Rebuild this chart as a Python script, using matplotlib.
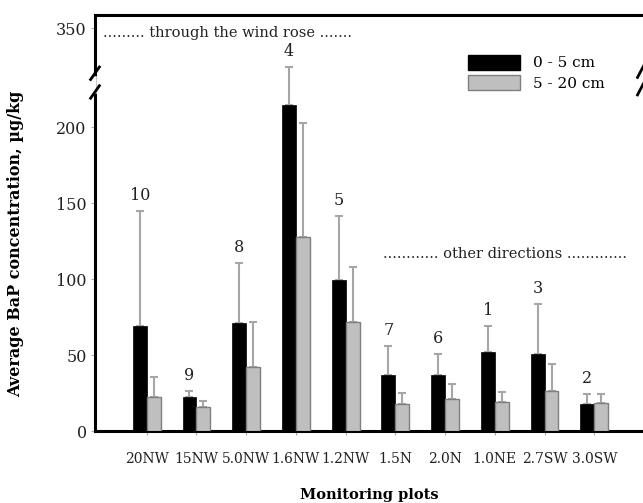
import numpy as np
import matplotlib
matplotlib.use('Agg')
import matplotlib.pyplot as plt
from matplotlib.patches import Patch

# data
plots = ['20NW', '15NW', '5.0NW', '1.6NW', '1.2NW', '1.5N', '2.0N', '1.0NE', '2.7SW', '3.0SW']
plot_ids = ['10', '9', '8', '4', '5', '7', '6', '1', '3', '2']
top_mean = [69.3, 22.2, 70.8, 214.7, 99.3, 36.8, 36.8, 52.2, 50.7, 17.8]
top_upper = [144.7, 26.5, 110.3, 239.5, 141.6, 55.9, 50.4, 69.1, 83.6, 24.3]
sub_mean = [22.6, 15.8, 41.9, 127.8, 71.9, 17.8, 21.1, 19.3, 26.3, 18.2]
sub_upper = [35.3, 19.5, 71.9, 202.5, 108.1, 24.8, 30.9, 25.4, 44.1, 24.3]
y_ticks = [0, 50, 100, 150, 200, 350]

plt.rcParams['font.family'] = 'DejaVu Serif'

# broken y axis: linear to 250, compressed above
B, K = 250.0, 0.15
def fwd(y):
    y = np.asarray(y, dtype=float)
    return np.where(y <= B, y, B + (y - B) * K)
def inv(y):
    y = np.asarray(y, dtype=float)
    return np.where(y <= B, y, B + (y - B) / K)

fig = plt.figure(figsize=(6.43, 5.03), dpi=100)
ax = fig.add_axes([95/643, 72/503, 548/643, 416/503])
ax.set_yscale('function', functions=(fwd, inv))

x = np.arange(len(plots))
w = 0.28
top_mean = np.array(top_mean)
sub_mean = np.array(sub_mean)
top_err = np.array(top_upper) - top_mean
sub_err = np.array(sub_upper) - sub_mean

ax.bar(x - w/2, top_mean, w, color='black', edgecolor='black', linewidth=0.5, zorder=3)
ax.bar(x + w/2, sub_mean, w, color='#bfbfbf', edgecolor='#7f7f7f', linewidth=1.0, zorder=3)
ax.errorbar(x - w/2, top_mean, yerr=[np.zeros_like(top_err), top_err], fmt='none',
            ecolor='#a6a6a6', elinewidth=1.5, capsize=3, capthick=1.5, zorder=2)
ax.errorbar(x + w/2, sub_mean, yerr=[np.zeros_like(sub_err), sub_err], fmt='none',
            ecolor='#a6a6a6', elinewidth=1.5, capsize=3, capthick=1.5, zorder=2)

for xi, up, lab in zip(x, top_upper, plot_ids):
    ax.annotate(lab, (xi - w/2, up), xytext=(0, 5), textcoords='offset points',
                ha='center', va='bottom', fontsize=11.5, color='#222222')

ax.set_xlim(-1.04, 9.98)
ax.set_ylim(0, 408)
ax.set_yticks(y_ticks)
ax.set_yticklabels([str(t) for t in y_ticks], fontsize=11.5, color='#222222')
ax.set_xticks(x)
ax.set_xticklabels(plots, fontsize=10, color='#222222')
ax.tick_params(axis='x', length=3, color='#aaaaaa', pad=12)
ax.tick_params(axis='y', length=3, color='#aaaaaa', pad=3)

for s in ['left', 'bottom', 'top']:
    ax.spines[s].set_linewidth(2.2)
ax.spines['right'].set_visible(False)

# break marks
ax.plot([-0.001, -0.001], [0.818, 0.845], transform=ax.transAxes, color='white',
        lw=4, clip_on=False, zorder=5)
for y0 in [0.845, 0.800]:
    ax.plot([-0.008, 0.008], [y0, y0 + 0.03], transform=ax.transAxes, color='black',
            lw=2, clip_on=False, zorder=6)
for y0 in [0.850, 0.808]:
    ax.plot([0.990, 1.002], [y0, y0 + 0.03], transform=ax.transAxes, color='black',
            lw=2, clip_on=False, zorder=6)

ax.text(0.0146, 0.957, '......... through the wind rose .......', transform=ax.transAxes,
        ha='left', va='center', fontsize=10.5, color='#222222')
ax.text(0.748, 0.425, '............ other directions .............', transform=ax.transAxes,
        ha='center', va='center', fontsize=10.5, color='#222222')

handles = [Patch(facecolor='black', edgecolor='black'),
           Patch(facecolor='#bfbfbf', edgecolor='#7f7f7f')]
ax.legend(handles, ['0 - 5 cm', '5 - 20 cm'], loc='upper left', bbox_to_anchor=(0.655, 0.937),
          frameon=False, fontsize=11, handlelength=3.4, handleheight=1.1, labelspacing=0.3,
          handletextpad=0.9)

ax.set_xlabel('Monitoring plots', fontsize=10.5, fontweight='bold', labelpad=16)
ax.set_ylabel('Average BaP concentration, \u00b5g/kg', fontsize=11.5, fontweight='bold')
ax.yaxis.set_label_coords(-0.13, 0.45)

fig.savefig('out.png', dpi=100)
